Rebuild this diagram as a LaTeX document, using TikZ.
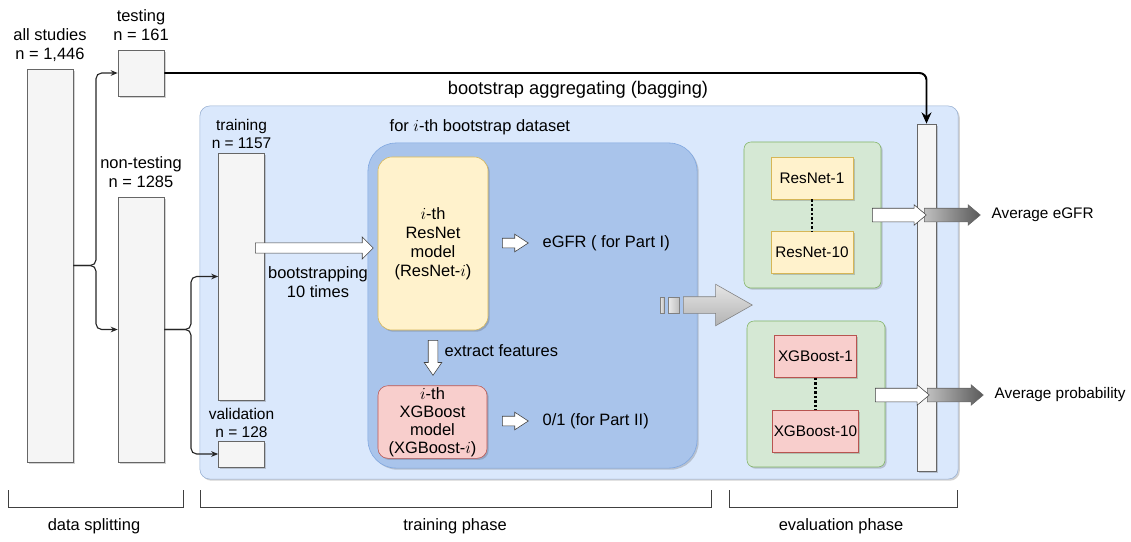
\documentclass[tikz,border=0pt]{standalone}
\usepackage{fontspec}
\setmainfont{Liberation Sans}
\usetikzlibrary{shapes.arrows,shadows,arrows.meta}

\definecolor{grfill}{HTML}{F5F5F5}
\definecolor{grline}{HTML}{666666}
\definecolor{bagfill}{HTML}{DAE8FC}
\definecolor{bagline}{HTML}{6C8EBF}
\definecolor{dsfill}{HTML}{A9C4EB}
\definecolor{dsline}{HTML}{7EA6E0}
\definecolor{ylfill}{HTML}{FFF2CC}
\definecolor{ylline}{HTML}{D6B656}
\definecolor{rdfill}{HTML}{F8CECC}
\definecolor{rdline}{HTML}{B85450}
\definecolor{gnfill}{HTML}{D5E8D4}
\definecolor{gnline}{HTML}{82B366}

\begin{document}
\begin{tikzpicture}[x=0.025cm, y=-0.025cm, font=\fontsize{11.7}{13.6}\selectfont]
	\tikzset{shd/.style={drop shadow={shadow xshift=1.2pt, shadow yshift=-1.2pt, opacity=0.25, fill=black!70}},
		dat/.style={rectangle, draw=grline, fill=grfill, shd, inner sep=0pt, minimum width=1.15cm},
		lbl/.style={align=center, inner sep=1pt},
		mdl/.style={rectangle, rounded corners=7pt, shd, align=center, inner sep=1pt},
		ens/.style={rectangle, draw=gnline, fill=gnfill, rounded corners=5pt, shd, minimum width=3.45cm, minimum height=3.65cm},
		sub/.style={rectangle, shd, minimum width=2.05cm, minimum height=1.05cm, inner sep=1pt, font=\fontsize{10.9}{13}\selectfont},
		warr/.style={single arrow, draw=black!75, fill=white, anchor=tail, minimum width=0pt},
		garr/.style={single arrow, draw=black!60, left color=black!25, right color=black!65, anchor=tail, minimum width=0pt},
		outt/.style={anchor=west, inner sep=1pt, font=\fontsize{10.9}{13}\selectfont},
		split/.style={-{Stealth[length=5pt, width=4pt]}, draw=black!85, line width=0.8pt, rounded corners=4pt},
		dots/.style={line width=1.8pt, dash pattern=on 1.8pt off 1.4pt},
		brkt/.style={draw=black!75, line width=0.6pt}};

	\useasboundingbox (0,0) rectangle (1131,541);

	% data splitting
	\node[dat, minimum height=9.825cm] (all) at (50,265.5) {};
	\node[dat, minimum height=1.15cm] (test) at (141,73) {};
	\node[dat, minimum height=6.625cm] (nontest) at (141,329.5) {};
	\node[lbl] (allt) at (50,45) {all studies\\n = 1,446};
	\node[lbl] (testt) at (141,25) {testing\\n = 161};
	\node[lbl] (nontestt) at (141,172) {non-testing\\n = 1285};

	\draw[split] (all.east) -- (96,265.5) |- (test.west);
	\draw[split] (all.east) -- (96,265.5) |- (nontest.west);

	% bagging
	\node[rectangle, draw=bagline!70, fill=bagfill, rounded corners=7pt, shd, minimum width=18.95cm, minimum height=9.325cm] (bag) at (579,292.5) {};
	\node[lbl, font=\fontsize{13}{15}\selectfont] (bagt) at (578,90) {bootstrap aggregating (bagging)};

	\node[dat, minimum height=6.175cm] (train) at (241.5,276.5) {};
	\node[dat, minimum height=0.65cm] (valid) at (241.5,454) {};
	\node[lbl, font=\fontsize{11}{13}\selectfont] (traint) at (241.5,134) {training\\n = 1157};
	\node[lbl, font=\fontsize{11}{13}\selectfont] (validt) at (241.5,423) {validation\\n = 128};

	\draw[split] (nontest.east) -- (191,329.5) |- (train.west);
	\draw[split] (nontest.east) -- (191,329.5) |- (valid.west);

	% i-th bootstrap dataset
	\node[rectangle, draw=dsline, fill=dsfill, rounded corners=20pt, shd, minimum width=8.225cm, minimum height=8.125cm] (ds) at (532.5,305.5) {};
	\node[lbl, anchor=west] (dst) at (388,127) {for $i$-th bootstrap dataset};

	\node[mdl, draw=ylline, fill=ylfill, rounded corners=10pt, minimum width=2.75cm, minimum height=4.325cm] (resnet) at (433,243.5) {$i$-th\\ResNet\\model\\(ResNet-$i$)};
	\node[mdl, draw=rdline, fill=rdfill, minimum width=2.725cm, minimum height=1.8cm, font=\fontsize{11.7}{12.9}\selectfont] (xgb) at (432.5,422) {$i$-th\\XGBoost\\model\\(XGBoost-$i$)};

	\node[warr, minimum height=2.95cm, inner sep=0.12cm, single arrow head extend=0.15cm, single arrow tip angle=90] (boot) at (255,248) {};
	\node[lbl] (boott) at (318,282) {bootstrapping\\10 times};

	\node[warr, minimum height=0.65cm, inner sep=0.1125cm, single arrow head extend=0.1cm, single arrow tip angle=66] (egfra) at (502,243) {};
	\node[lbl, anchor=west] (egfr) at (541,243) {eGFR ( for Part I)};
	\node[warr, minimum height=0.65cm, inner sep=0.1125cm, single arrow head extend=0.1cm, single arrow tip angle=66] (parta) at (502,421) {};
	\node[lbl, anchor=west] (part) at (541,421) {0/1 (for Part II)};

	\node[warr, shape border rotate=270, minimum height=0.875cm, inner sep=0.1125cm, single arrow head extend=0.1cm, single arrow tip angle=69] (feat) at (433,340) {};
	\node[lbl, anchor=west] (featt) at (443,351) {extract features};

	% aggregating
	\node[rectangle, draw=black!50, left color=black!8, right color=black!25, minimum width=0.1cm, minimum height=0.4cm, inner sep=0pt] (g1) at (662,305) {};
	\node[rectangle, draw=black!50, left color=black!8, right color=black!25, minimum width=0.275cm, minimum height=0.4cm, inner sep=0pt] (g2) at (673.5,305) {};
	\node[single arrow, draw=black!50, top color=black!10, bottom color=black!30, anchor=tail, minimum width=0pt, minimum height=1.725cm, inner sep=0.2cm, single arrow head extend=0.3125cm, single arrow tip angle=59] (agg) at (683,305) {};

	\node[ens, minimum width=3.425cm] (ensr) at (812.5,215) {};
	\node[ens] (ensx) at (816,394) {};
	\node[sub, draw=ylline, fill=ylfill] (r1) at (812,178) {ResNet-1};
	\node[sub, draw=ylline, fill=ylfill] (r10) at (812,252.5) {ResNet-10};
	\node[sub, draw=rdline, fill=rdfill] (x1) at (815.5,356.5) {XGBoost-1};
	\node[sub, draw=rdline, fill=rdfill] (x10) at (815.5,431.5) {XGBoost-10};
	\draw[dots] (r1.south) -- (r10.north);
	\draw[dots] (x1.south) -- (x10.north);

	\node[dat, minimum width=0.475cm, minimum height=8.675cm] (bar) at (926.5,297.5) {};

	\draw[line width=1.4pt, -{Stealth[length=8pt, width=7pt]}, rounded corners=5pt] (test.east) -| (bar.north);

	\node[garr, minimum height=1.4cm, inner sep=0.1625cm, single arrow head extend=0.0875cm, single arrow tip angle=80] (avge) at (924,215) {};
	\node[warr, minimum height=1.35cm, inner sep=0.1625cm, single arrow head extend=0.0875cm, single arrow tip angle=80] (rese) at (872,215) {};
	\node[outt] (avget) at (990,215) {Average eGFR};

	\node[garr, minimum height=1.4cm, inner sep=0.1625cm, single arrow head extend=0.0875cm, single arrow tip angle=80] (avgp) at (927,395) {};
	\node[warr, minimum height=1.35cm, inner sep=0.1625cm, single arrow head extend=0.0875cm, single arrow tip angle=80] (resp) at (875,395) {};
	\node[outt] (avgpt) at (993,395) {Average probability};

	% phases
	\draw[brkt] (8,490) |- (183,507) -- (183,490);
	\draw[brkt] (200,490) |- (711,507) -- (711,490);
	\draw[brkt] (729,490) |- (957,507) -- (957,490);
	\node[lbl] (ph1) at (94,526) {data splitting};
	\node[lbl] (ph2) at (455,526) {training phase};
	\node[lbl] (ph3) at (841,526) {evaluation phase};
\end{tikzpicture}
\end{document}
